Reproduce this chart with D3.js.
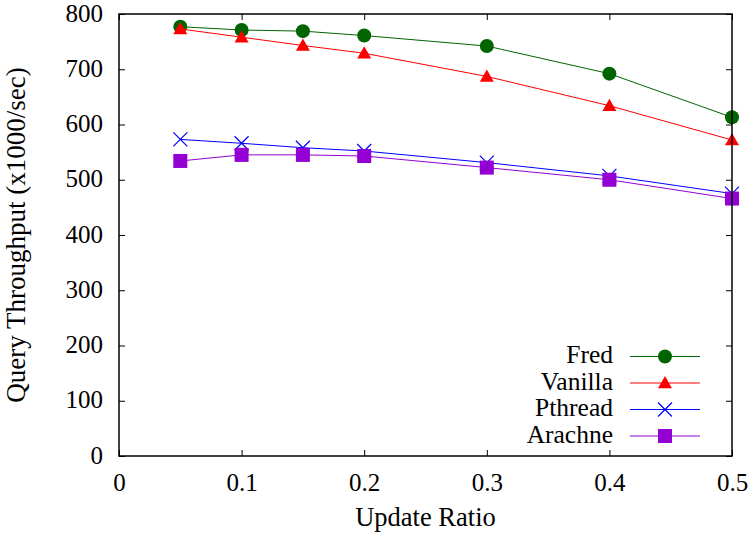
<!DOCTYPE html>
<html><head><meta charset="utf-8">
<script src="https://cdn.jsdelivr.net/npm/d3@7"></script>
<style>body{margin:0;background:#fff}svg{display:block}text{font-family:"Liberation Serif","Times New Roman",serif;fill:#000}</style>
</head><body><svg id="c" width="752" height="539"></svg>
<script>
const xValues = [0.05, 0.1, 0.15, 0.2, 0.3, 0.4, 0.5];
const fred = [777, 771, 769, 761, 742, 692, 613];
const vanilla = [773, 758, 743, 729, 687, 634, 572];
const pthread = [573, 566, 558, 552, 531, 507, 475];
const arachne = [534, 545, 545, 543, 522, 500, 466];
const seriesNames = ["Fred", "Vanilla", "Pthread", "Arachne"];
const seriesColors = ["#006400", "#ff0000", "#0000ff", "#9400d3"];
const seriesMarkers = ["circle", "triangle", "cross", "square"];
const xTicks = [0, 0.1, 0.2, 0.3, 0.4, 0.5];
const yTicks = [0, 100, 200, 300, 400, 500, 600, 700, 800];

const FS = 25;
const svg = d3.select("#c");
const L = 119, R = 732, T = 14, B = 456;
const x = d3.scaleLinear().domain([0, 0.5]).range([L, R]);
const y = d3.scaleLinear().domain([0, 800]).range([B, T]);
const allSeries = [fred, vanilla, pthread, arachne];

const tl = 6;
const gB = svg.append("g").attr("transform", `translate(0,${B})`)
  .call(d3.axisBottom(x).tickValues(xTicks).tickSizeInner(-tl).tickSizeOuter(0).tickPadding(18).tickFormat(d3.format("")));
const gT = svg.append("g").attr("transform", `translate(0,${T})`)
  .call(d3.axisTop(x).tickValues(xTicks).tickSizeInner(-tl).tickSizeOuter(0).tickFormat(""));
const gL = svg.append("g").attr("transform", `translate(${L},0)`)
  .call(d3.axisLeft(y).tickValues(yTicks).tickSizeInner(-tl).tickSizeOuter(0).tickPadding(16));
const gR = svg.append("g").attr("transform", `translate(${R},0)`)
  .call(d3.axisRight(y).tickValues(yTicks).tickSizeInner(-tl).tickSizeOuter(0).tickFormat(""));
[gB, gT, gL, gR].forEach(g => {
  g.attr("font-size", FS).attr("font-family", "Liberation Serif, serif");
  g.select(".domain").remove();
  g.selectAll(".tick line").attr("stroke", "#000").attr("stroke-width", 1);
  g.selectAll(".tick text").attr("font-size", FS);
});
gB.selectAll(".tick text").attr("dy", "0.68em");
gL.selectAll(".tick text").attr("dy", "0.28em");

const lineGen = d3.line().x((d, i) => x(xValues[i])).y(d => y(d));

function marker(g, type, cx, cy, color) {
  const s = 7;
  if (type === "circle") g.append("circle").attr("cx", cx).attr("cy", cy).attr("r", s).attr("fill", color);
  else if (type === "triangle") g.append("path").attr("d", `M${cx},${cy - s}L${cx + s},${cy + s * 0.75}L${cx - s},${cy + s * 0.75}Z`).attr("fill", color);
  else if (type === "square") g.append("rect").attr("x", cx - s).attr("y", cy - s).attr("width", 2 * s).attr("height", 2 * s).attr("fill", color);
  else if (type === "cross") g.append("path").attr("d", `M${cx - s},${cy - s}L${cx + s},${cy + s}M${cx - s},${cy + s}L${cx + s},${cy - s}`).attr("stroke", color).attr("stroke-width", 1.2).attr("fill", "none");
}

allSeries.forEach((vals, si) => {
  const g = svg.append("g");
  g.append("path").datum(vals).attr("d", lineGen).attr("fill", "none")
    .attr("stroke", seriesColors[si]).attr("stroke-width", 1);
  vals.forEach((v, i) => marker(g, seriesMarkers[si], x(xValues[i]), y(v), seriesColors[si]));
});

svg.append("rect").attr("x", L).attr("y", T).attr("width", R - L).attr("height", B - T)
  .attr("fill", "none").attr("stroke", "#000").attr("stroke-width", 1.5);

const legY = [356.5, 383, 409.5, 436];
seriesNames.forEach((n, i) => {
  const g = svg.append("g");
  g.append("text").attr("x", 613).attr("y", legY[i] + 6.5).attr("text-anchor", "end")
    .attr("font-size", 25.5).text(n);
  g.append("line").attr("x1", 630).attr("x2", 700).attr("y1", legY[i]).attr("y2", legY[i])
    .attr("stroke", seriesColors[i]).attr("stroke-width", 1);
  marker(g, seriesMarkers[i], 665, legY[i], seriesColors[i]);
});

svg.append("text").attr("x", (L + R) / 2).attr("y", 526).attr("text-anchor", "middle")
  .attr("font-size", 26.5).text("Update Ratio");
svg.append("text").attr("transform", `translate(25,${(T + B) / 2}) rotate(-90)`)
  .attr("text-anchor", "middle").attr("font-size", 27).text("Query Throughput (x1000/sec)");
</script></body></html>
